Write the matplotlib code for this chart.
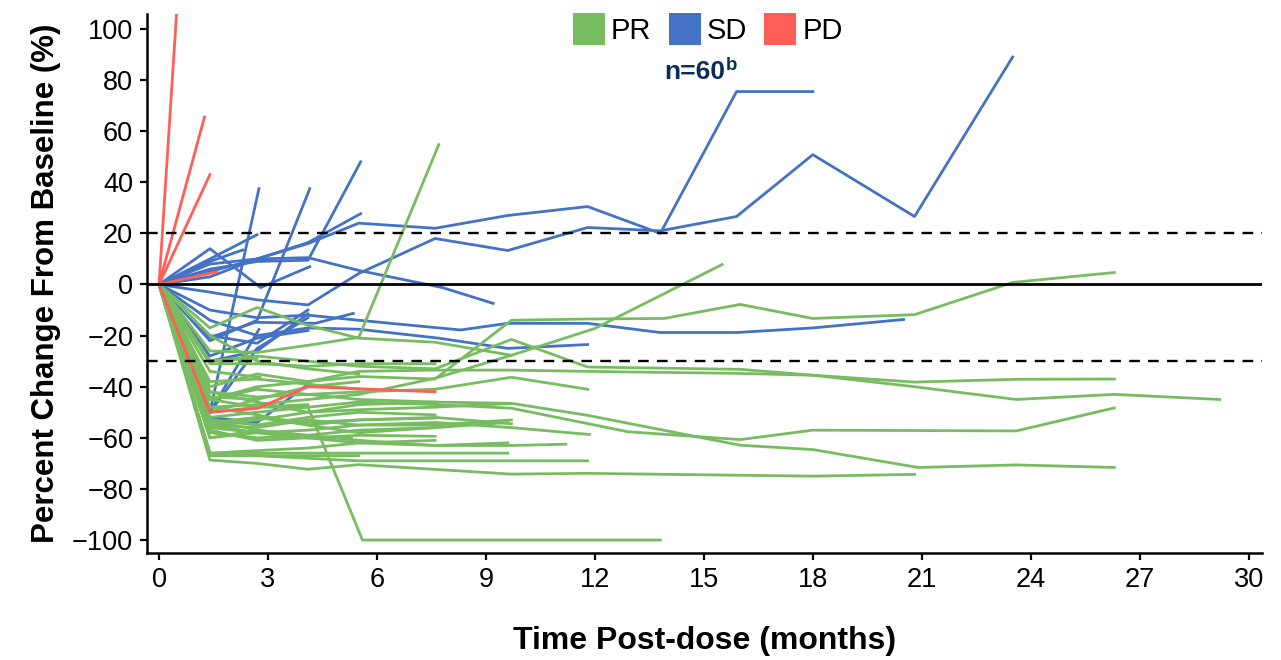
import matplotlib
matplotlib.use('Agg')
import matplotlib.pyplot as plt
from matplotlib.patches import Patch

plt.rcParams['font.family'] = ['Liberation Sans', 'DejaVu Sans']

# Months post-dose and percent change from baseline, one list per patient
PD_MONTHS = [
    [0, 0.5], [0, 1.25], [0, 1.4], [0, 1.6], [0, 1.4, 2.7, 4.1, 7.6],
]
PD_CHANGE = [
    [0, 110], [0, 65.5], [0, 43], [0, 5], [0, -50, -48.5, -40, -42],
]

SD_MONTHS = [
    [0, 1.4, 2.7, 4.1, 5.5, 7.6, 9.6, 11.8, 13.8, 15.9, 18.0],
    [0, 1.4, 2.7, 4.1, 5.5, 7.6, 9.6, 11.8, 13.8, 15.9, 18.0, 20.8, 23.5],
    [0, 1.4, 2.7, 4.1, 5.5, 8.3, 9.6, 11.8, 13.8, 15.9, 18.0, 20.5],
    [0, 1.4, 2.7, 4.1, 5.5, 7.7, 9.6, 11.8],
    [0, 1.4, 2.7, 4.1, 5.5, 7.8, 9.2],
    [0, 1.4, 2.75],
    [0, 1.4, 2.7, 4.15],
    [0, 1.4, 2.7, 4.1, 5.55],
    [0, 1.4, 2.7, 4.1, 5.55],
    [0, 1.4, 2.7],
    [0, 1.4, 2.8, 4.15],
    [0, 1.4, 2.3],
    [0, 1.4, 2.7, 4.1],
    [0, 1.4, 2.7, 4.1],
    [0, 1.4, 2.7, 4.1],
    [0, 1.4, 2.65, 4.3, 5.35],
    [0, 1.4, 2.7, 4.15],
    [0, 1.4, 2.75],
    [0, 1.4, 2.7, 4.1],
]
SD_CHANGE = [
    [0, 8, 10, 16, 24, 22, 27, 30.5, 20, 75.5, 75.5],
    [0, -3, -6, -8, 4.3, 18, 13.3, 22.3, 21, 26.6, 50.8, 26.6, 89],
    [0, -10, -13, -12, -14, -17.8, -15.2, -15.2, -18.8, -18.8, -17, -13.7],
    [0, -14, -20, -17, -17.5, -21, -25, -23.5],
    [0, 3, 10, 10.5, 5.5, -1.2, -7.4],
    [0, -50, 37.5],
    [0, -22, -14, 37.5],
    [0, 6, 9, 9.5, 48],
    [0, 5, 10, 16.4, 27.7],
    [0, 10, 19.5],
    [0, 14, -1.2, 7],
    [0, 9, 13.5],
    [0, -20, -23, -10],
    [0, -30, -26, -11.5],
    [0, -50, -25, -13],
    [0, -20.7, -14.8, -15.2, -11.3],
    [0, -52, -54, -38.5],
    [0, -50, -17.6],
    [0, -28, -21, -18],
]

PR_MONTHS = [
    [0, 1.4, 2.7, 4.1, 5.5, 7.6, 9.7, 11.8, 13.9, 16.0, 18.0, 20.8, 23.5, 26.3],
    [0, 1.4, 2.7, 4.1, 5.5, 7.6, 9.7, 12.0, 15.5],
    [0, 1.4, 2.7, 4.1, 5.5, 7.7],
    [0, 1.4, 2.7, 4.1, 5.5, 7.6, 9.7, 11.8, 16.0, 18.0, 20.8, 23.6, 26.3],
    [0, 1.4, 2.7, 4.1, 5.5, 7.6, 9.7, 11.8, 16.0, 18.0, 20.8, 23.6, 26.3, 29.2],
    [0, 1.4, 2.7, 4.1, 5.5, 7.6, 9.7, 11.8, 16.0, 18.0, 20.9, 23.6, 26.3],
    [0, 1.4, 2.7, 4.1, 5.5, 7.6, 9.7, 12.9, 16.0, 18.0, 23.6, 26.3],
    [0, 1.4, 2.7, 4.1, 5.5, 9.7, 11.8, 18.0, 20.8],
    [0, 1.4, 2.7, 4.1, 5.6, 13.8],
    [0, 1.4, 2.7, 4.1, 5.5, 7.6, 9.7, 11.8],
    [0, 1.4, 2.7, 4.1, 5.5, 7.6, 9.7, 11.85],
    [0, 1.4, 2.7, 4.1, 5.5, 7.6, 9.7, 11.2],
    [0, 1.4, 2.7, 4.1, 5.5, 7.6, 9.7, 11.8],
    [0, 1.4, 2.7, 4.1, 5.5, 7.6, 9.6],
    [0, 1.4, 2.7, 4.1, 5.5, 7.6, 9.6],
    [0, 1.4, 2.7, 4.1, 5.5, 7.6, 9.7],
    [0, 1.4, 2.7, 4.1, 5.5, 7.6, 9.6],
    [0, 1.4, 2.7, 4.1, 5.5, 7.6, 9.66],
    [0, 1.4, 2.7, 4.1, 5.5, 7.6],
    [0, 1.4, 2.7, 4.1, 5.5, 7.6],
    [0, 1.4, 2.7, 4.1, 5.5, 7.6],
    [0, 1.4, 2.7, 4.1, 5.5, 7.6],
    [0, 1.4, 2.7, 4.1, 5.5],
    [0, 1.4, 2.7, 4.1, 5.3],
    [0, 1.4, 2.7, 4.1],
    [0, 1.4, 2.78],
    [0, 1.4, 2.7, 4.1, 5.5, 7.6, 9.7],
    [0, 1.4, 2.7, 4.1, 5.5],
    [0, 1.4, 2.7, 4.1, 5.5],
    [0, 1.4, 2.7],
    [0, 1.4, 2.7, 4.1],
    [0, 1.4, 2.7, 4.1, 5.5, 7.6],
    [0, 1.4, 2.7, 4.1, 5.5, 7.6, 9.7],
    [0, 1.4, 2.7, 4.1, 5.5, 7.6],
    [0, 1.4, 2.7],
    [0, 1.4, 2.7, 4.1, 5.5, 7.6],
    [0, 1.4, 2.7, 4.1, 5.5],
]
PR_CHANGE = [
    [0, -40, -35, -38, -36, -37, -14, -13.5, -13.3, -7.8, -13.3, -11.8, 0.8, 4.7],
    [0, -48, -47, -45, -43, -36.7, -27.7, -17.2, 7.8],
    [0, -26, -26.6, -23.8, -20.7, 54.7],
    [0, -30, -28, -30, -32, -33, -21.5, -32.3, -33.2, -35.5, -38.2, -37.1, -37],
    [0, -45, -40, -38, -34, -33.5, -33.5, -34, -34.8, -35.5, -40, -45, -43, -45],
    [0, -55, -53, -50, -47, -46, -46.5, -51.2, -62.9, -64.6, -71.6, -70.6, -71.6],
    [0, -52, -50, -48, -46, -47, -48.4, -57.6, -60.7, -57, -57.3, -48.3],
    [0, -68.7, -70, -72.3, -70.5, -74.2, -73.9, -75, -74.3],
    [0, -45, -48, -48, -100, -100],
    [0, -42, -44, -43, -42, -41, -36.3, -41],
    [0, -55, -56, -53, -55, -54, -56, -58.7],
    [0, -58, -60, -59, -61, -63, -63, -62.5],
    [0, -66, -67, -68, -69, -69, -69, -69],
    [0, -66, -66, -66, -66, -66, -66],
    [0, -56, -58, -60, -62, -63, -62],
    [0, -54, -52, -55, -53, -52, -54.5],
    [0, -48, -51, -55, -58, -56, -54],
    [0, -42, -46, -50, -49, -48, -46.6],
    [0, -53, -55, -52, -50, -51],
    [0, -56, -52, -54, -53, -52.3],
    [0, -57, -61, -60, -59, -59.4],
    [0, -60, -57, -59, -57, -56],
    [0, -67, -67, -67, -67],
    [0, -55, -58, -60, -60],
    [0, -53, -57, -60],
    [0, -34, -36.3],
    [0, -17, -9, -16, -21, -22.6, -27.7],
    [0, -20, -30, -33, -35],
    [0, -38, -37, -39, -41],
    [0, -44, -45],
    [0, -50, -48, -47],
    [0, -45, -41, -43, -45, -46],
    [0, -60, -58, -57, -55, -55, -53],
    [0, -66, -65, -64, -62, -61],
    [0, -30, -29],
    [0, -31, -31, -32, -31, -31],
    [0, -50, -45, -40, -38],
]

RESPONSES = ['PR', 'SD', 'PD']
COLORS = {'PR': '#78BC61', 'SD': '#4472C4', 'PD': '#FF5F57'}
THRESHOLDS = [20, -30]
X_TICKS = list(range(0, 31, 3))
Y_TICKS = list(range(-100, 101, 20))

fig = plt.figure(figsize=(12.81, 6.60), dpi=100)
ax = fig.add_axes([0.1148, 0.162, 0.8702, 0.817])

for months, change in zip(SD_MONTHS, SD_CHANGE):
    ax.plot(months, change, color=COLORS['SD'], lw=2, zorder=2)
for months, change in zip(PR_MONTHS, PR_CHANGE):
    ax.plot(months, change, color=COLORS['PR'], lw=2, zorder=2)
for months, change in zip(PD_MONTHS, PD_CHANGE):
    ax.plot(months, change, color=COLORS['PD'], lw=2, zorder=3)

ax.axhline(0, color='black', lw=2, zorder=4)
for t in THRESHOLDS:
    ax.axhline(t, color='black', lw=1.7, linestyle=(0, (4.5, 3.5)), zorder=4)

ax.set_xlim(-0.33, 30.36)
ax.set_ylim(-105.1, 105.9)
ax.set_xticks(X_TICKS)
ax.set_yticks(Y_TICKS)
ax.tick_params(labelsize=19.5, width=1.6, length=5, direction='out', pad=5)
ax.set_yticklabels([f'\u2212{abs(v)}' if v < 0 else str(v) for v in Y_TICKS])
for side in ['top', 'right']:
    ax.spines[side].set_visible(False)
for side in ['left', 'bottom']:
    ax.spines[side].set_linewidth(1.8)

ax.set_xlabel('Time Post-dose (months)', fontsize=23, fontweight='bold', labelpad=24)
ax.set_ylabel('Percent Change From Baseline (%)', fontsize=22.5, fontweight='bold', labelpad=8)

handles = [Patch(facecolor=COLORS[r], edgecolor='none', label=r) for r in RESPONSES]
ax.legend(handles=handles, loc='upper center', bbox_to_anchor=(0.503, 1.023), ncol=3,
          frameon=False, fontsize=21, handlelength=1.1, handleheight=1.3,
          handletextpad=0.2, columnspacing=0.6, borderaxespad=0)

t = ax.text(0.491, 0.893, 'n=60', transform=ax.transAxes, ha='center', va='center',
            fontsize=19, fontweight='bold', color='#0B2D5B')
ax.annotate('b', xy=(1.01, 1.1), xycoords=t, ha='left', va='top', fontsize=13.5,
            fontweight='bold', color='#0B2D5B')

fig.savefig('out.png', dpi=100)
